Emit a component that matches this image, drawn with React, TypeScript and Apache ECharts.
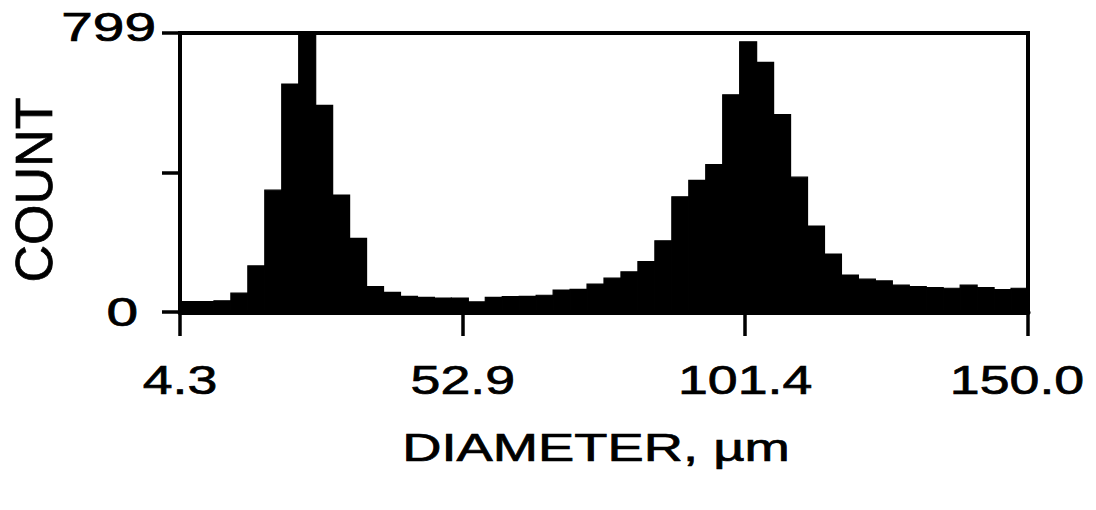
import React, { useEffect, useRef } from "react";
import * as echarts from "echarts";

// Histogram bins: 50 equal bins from 4.3 to 150.0 µm
const xMin = 4.3;
const xMax = 150.0;
const yMax = 799;
const binCount = 50;
const counts: number[] = [
  30, 30, 32, 54, 132, 349, 653, 799, 592, 335,
  211, 73, 56, 45, 42, 40, 40, 29, 42, 44,
  45, 48, 63, 65, 80, 97, 115, 144, 204, 330,
  377, 422, 622, 774, 715, 565, 386, 246, 166, 106,
  94, 89, 77, 73, 70, 68, 77, 70, 64, 68,
];
const xTicks: number[] = [4.3, 52.9, 101.4, 150.0];
const yTicks: number[] = [0, 400, 799];
const yLabels: number[] = [0, 799];
const xTitle = "DIAMETER, µm";
const yTitle = "COUNT";

const FONT = "'Liberation Sans', Arial, Helvetica, sans-serif";

export default function App() {
  const ref = useRef<HTMLDivElement>(null);
  useEffect(() => {
    if (!ref.current) return;
    const chart = echarts.init(ref.current, undefined, { renderer: "svg" });
    const w = (xMax - xMin) / binCount;
    const data = counts.map((c, i) => [xMin + i * w, xMin + (i + 1) * w, c]);
    chart.setOption({
      animation: false,
      backgroundColor: "#fff",
      grid: {
        left: 180,
        right: 68,
        top: 33,
        bottom: 198,
        show: true,
        borderColor: "#000",
        borderWidth: 4,
        backgroundColor: "transparent",
      },
      xAxis: {
        type: "value",
        min: xMin,
        max: xMax,
        axisLine: { show: true, lineStyle: { color: "#000", width: 5 } },
        axisTick: {
          show: true,
          customValues: xTicks,
          length: 24,
          lineStyle: { color: "#000", width: 3.5 },
        },
        axisLabel: { show: false },
        splitLine: { show: false },
      },
      yAxis: {
        type: "value",
        min: 0,
        max: yMax,
        axisLine: { show: true, lineStyle: { color: "#000", width: 4 } },
        axisTick: {
          show: true,
          customValues: yTicks,
          length: 18,
          lineStyle: { color: "#000", width: 3.5 },
        },
        axisLabel: { show: false },
        splitLine: { show: false },
      },
      series: [
        {
          type: "custom",
          encode: { x: [0, 1], y: 2 },
          data,
          renderItem: (params: any, api: any) => {
            const p0 = api.coord([api.value(0), api.value(2)]);
            const p1 = api.coord([api.value(1), 0]);
            return {
              type: "rect",
              shape: { x: p0[0], y: p0[1], width: p1[0] - p0[0], height: p1[1] - p0[1] },
              style: { fill: "#000", stroke: "#000", lineWidth: 1.2 },
            };
          },
        },
      ],
    });

    const px = (v: number) => chart.convertToPixel({ xAxisIndex: 0 }, v) as number;
    const py = (v: number) => chart.convertToPixel({ yAxisIndex: 0 }, v) as number;
    const left = px(xMin);
    const bottom = py(0);

    const textStyle = (text: string, size: number, align: string) => ({
      text,
      font: `${size}px ${FONT}`,
      fill: "#000",
      stroke: "#000",
      lineWidth: 0.7,
      align,
      verticalAlign: "middle",
    });

    const graphics: any[] = [];
    xTicks.forEach((v) => {
      graphics.push({
        type: "text",
        x: Math.min(px(v), 1017),
        y: bottom + 68,
        scaleX: 1.31,
        style: textStyle(v.toFixed(1), 41, "center"),
      });
    });
    yLabels.forEach((v) => {
      graphics.push({
        type: "text",
        x: left - (v === yMax ? 24 : 42),
        y: py(v) - (v === yMax ? 6 : 0),
        scaleX: 1.42,
        style: textStyle(String(v), 40, "right"),
      });
    });
    graphics.push({
      type: "text",
      x: 596,
      y: 448,
      scaleX: 1.43,
      style: textStyle(xTitle, 38, "center"),
    });
    graphics.push({
      type: "text",
      x: 34,
      y: 190,
      rotation: Math.PI / 2,
      style: textStyle(yTitle, 52, "center"),
    });
    chart.setOption({ graphic: graphics });

    return () => chart.dispose();
  }, []);
  return (
    <div
      ref={ref}
      style={{ position: "fixed", left: 0, top: 0, width: 1096, height: 510, background: "#fff" }}
    />
  );
}
